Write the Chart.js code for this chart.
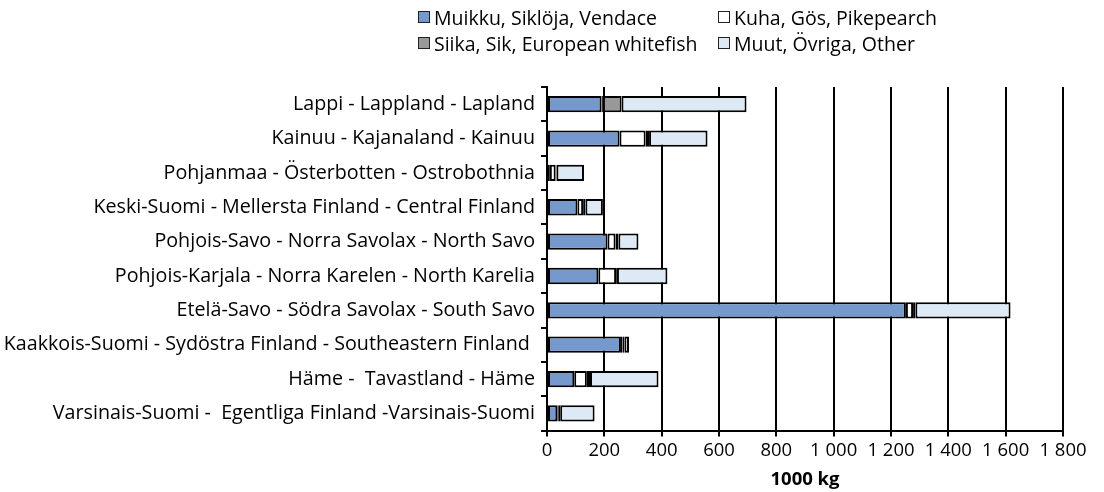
<!DOCTYPE html>
<html>
<head>
<meta charset="utf-8">
<script src="https://cdn.jsdelivr.net/npm/chart.js@4/dist/chart.umd.min.js"></script>
<style>
  html, body { margin: 0; padding: 0; background: #fff; }
  #wrap { position: relative; width: 1104px; height: 492px; }
  #legend {
    position: absolute; left: 418px; top: 5px;
    display: grid; grid-template-columns: 300px 280px; row-gap: 2px;
    font-family: "Open Sans", sans-serif; font-size: 19.5px; color: #000;
  }
  #legend .item { display: flex; align-items: center; height: 24px; white-space: pre; }
  #legend .box { width: 12px; height: 12px; border: 1px solid #222; margin-right: 4px; box-sizing: border-box; }
</style>
</head>
<body>
<div id="wrap">
  <canvas id="chart" width="1104" height="492"></canvas>
  <div id="legend"></div>
</div>
<script>
const REGIONS = [
  'Lappi - Lappland - Lapland',
  'Kainuu - Kajanaland - Kainuu',
  'Pohjanmaa - Österbotten - Ostrobothnia',
  'Keski-Suomi - Mellersta Finland - Central Finland',
  'Pohjois-Savo - Norra Savolax - North Savo',
  'Pohjois-Karjala - Norra Karelen - North Karelia',
  'Etelä-Savo - Södra Savolax - South Savo',
  'Kaakkois-Suomi - Sydöstra Finland - Southeastern Finland ',
  'Häme -  Tavastland - Häme',
  'Varsinais-Suomi -  Egentliga Finland -Varsinais-Suomi',
];

// 1000 kg
const VENDACE = [190, 253, 10, 106, 211, 179, 1252, 258, 95, 36];
const PIKEPERCH = [5, 91, 20, 20, 28, 62, 25, 5, 44, 3];
const WHITEFISH = [65, 12, 3, 8, 10, 3, 8, 7, 11, 7];
const OTHER = [436, 204, 96, 61, 70, 176, 332, 16, 239, 120];

const SERIES_LABELS = [
  'Muikku, Siklöja, Vendace',
  'Kuha, Gös, Pikepearch',
  'Siika, Sik, European whitefish',
  'Muut, Övriga, Other',
];
const SERIES_COLORS = ['#7599cd', '#ffffff', '#999999', '#dde9f5'];

const FONT = '"Open Sans", sans-serif';

function spaced(v) {
  return String(v).replace(/\B(?=(\d{3})+(?!\d))/g, ' ');
}

const datasets = [VENDACE, PIKEPERCH, WHITEFISH, OTHER].map((d, i) => ({
  label: SERIES_LABELS[i],
  data: d,
  backgroundColor: SERIES_COLORS[i],
  borderColor: '#000',
  borderWidth: 2,
  borderSkipped: false,
  barPercentage: 0.66,
  categoryPercentage: 0.72,
}));

const chart = new Chart(document.getElementById('chart'), {
  type: 'bar',
  data: { labels: REGIONS, datasets },
  options: {
    responsive: false,
    animation: false,
    indexAxis: 'y',
    layout: { padding: { top: 87, right: 41, left: 0, bottom: 1 } },
    plugins: { legend: { display: false }, tooltip: { enabled: false } },
    scales: {
      x: {
        stacked: true,
        min: 0,
        max: 1800,
        ticks: {
          stepSize: 200,
          color: '#000',
          font: { family: FONT, size: 18.5 },
          padding: 3,
          maxRotation: 0,
          callback: v => spaced(v),
        },
        grid: { color: '#000', lineWidth: 2, tickLength: 6, tickColor: '#000' },
        border: { color: '#000', width: 2 },
        title: {
          display: true,
          text: '1000 kg',
          color: '#000',
          font: { family: FONT, size: 18.5, weight: 'bold' },
          padding: { top: 4, bottom: 0 },
        },
      },
      y: {
        stacked: true,
        afterFit: scale => { scale.width = 547; },
        ticks: { color: '#000', font: { family: FONT, size: 19.7 }, padding: 6, autoSkip: false },
        grid: { drawOnChartArea: false, tickLength: 6, tickColor: '#000', lineWidth: 2 },
        border: { color: '#000', width: 2 },
      },
    },
  },
});

// legend in two columns, built from the datasets
const legend = document.getElementById('legend');
chart.data.datasets.forEach(ds => {
  const item = document.createElement('div');
  item.className = 'item';
  const box = document.createElement('span');
  box.className = 'box';
  box.style.background = ds.backgroundColor;
  const txt = document.createElement('span');
  txt.textContent = ds.label;
  item.appendChild(box);
  item.appendChild(txt);
  legend.appendChild(item);
});
</script>
</body>
</html>
